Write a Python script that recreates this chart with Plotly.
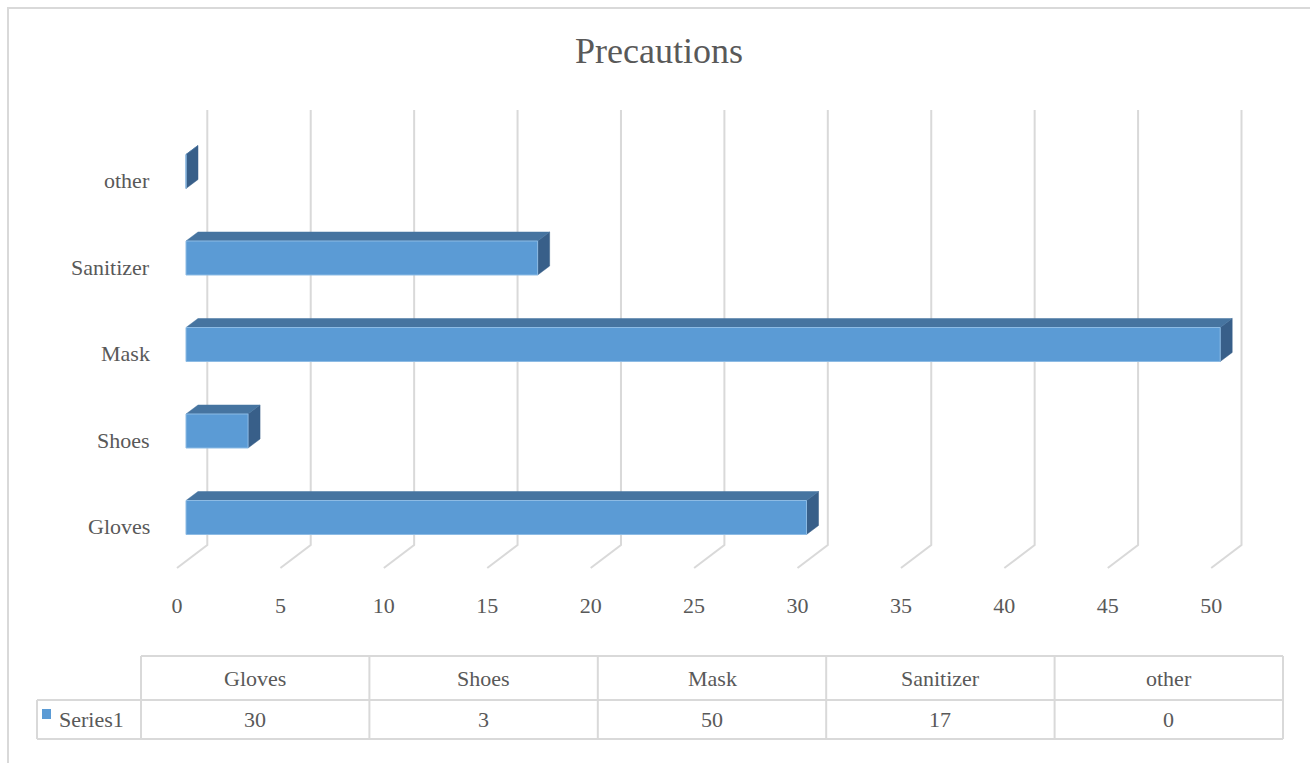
import plotly.graph_objects as go

# ---------------- data ----------------
categories = ["Gloves", "Shoes", "Mask", "Sanitizer", "other"]
values = [30, 3, 50, 17, 0]
series_name = "Series1"
x_ticks = [0, 5, 10, 15, 20, 25, 30, 35, 40, 45, 50]
chart_title = "Precautions"

# ---------------- style / layout ----------------
W, H = 1310, 763
ML, MR, MT, MB = 20, 10, 90, 178
PW, PH = W - ML - MR, H - MT - MB
FONT = "Times New Roman, Liberation Serif, serif"
TXT = "#595959"
GRID = "#d9d9d9"
C_FRONT = "#5b9bd5"
C_TOP = "#4674a0"
C_SIDE = "#385f89"

PX_PER_UNIT = 20.684      # pixels per value unit
X0_PX = 177.0             # pixel where value 0 sits on the floor front edge
CAT0_PX = 517.5           # pixel of first category centre
CAT_STEP_PX = 86.5        # pixels between categories

# x/y ranges derived from the pixel layout
x_range = [(ML - X0_PX) / PX_PER_UNIT, (ML + PW - X0_PX) / PX_PER_UNIT]
y_range = [(CAT0_PX - (MT + PH)) / CAT_STEP_PX, (CAT0_PX - MT) / CAT_STEP_PX]

def ux(px):  # pixel offset -> x units
    return px / PX_PER_UNIT

def uy(px):  # pixel offset -> y units
    return px / CAT_STEP_PX

FRONT_DX = ux(9)          # bar front plane vs floor front
DEPTH_DX = ux(12)         # bar depth
DEPTH_DY = uy(9)
HALF_H = uy(34) / 2       # half height of bar front face
WALL_DX = ux(30.3)        # back wall vs floor front
WALL_TOP = (CAT0_PX - 110) / CAT_STEP_PX
WALL_BOT = (CAT0_PX - 545) / CAT_STEP_PX
FLOOR_FRONT = (CAT0_PX - 568) / CAT_STEP_PX

fig = go.Figure()

# gridlines on the back wall + floor
gx, gy = [], []
for t in x_ticks:
    gx += [t + WALL_DX, t + WALL_DX, t, None]
    gy += [WALL_TOP, WALL_BOT, FLOOR_FRONT, None]
fig.add_trace(go.Scatter(x=gx, y=gy, mode="lines", line=dict(color=GRID, width=2),
                         hoverinfo="skip", showlegend=False))

# 3D bars
fx, fy, tx, ty, sx, sy = [], [], [], [], [], []
for i, v in enumerate(values):
    x0 = FRONT_DX
    x1 = FRONT_DX + v
    y0, y1 = i - HALF_H, i + HALF_H
    # front
    fx += [x0, x1, x1, x0, x0, None]
    fy += [y0, y0, y1, y1, y0, None]
    # top
    tx += [x0, x1, x1 + DEPTH_DX, x0 + DEPTH_DX, x0, None]
    ty += [y1, y1, y1 + DEPTH_DY, y1 + DEPTH_DY, y1, None]
    # right side
    sx += [x1, x1 + DEPTH_DX, x1 + DEPTH_DX, x1, x1, None]
    sy += [y0, y0 + DEPTH_DY, y1 + DEPTH_DY, y1, y0, None]

fig.add_trace(go.Scatter(x=sx, y=sy, mode="lines", fill="toself", fillcolor=C_SIDE,
                         line=dict(color=C_SIDE, width=0.5), hoverinfo="skip", showlegend=False))
fig.add_trace(go.Scatter(x=tx, y=ty, mode="lines", fill="toself", fillcolor=C_TOP,
                         line=dict(color=C_TOP, width=0.5), hoverinfo="skip", showlegend=False))
fig.add_trace(go.Scatter(x=fx, y=fy, mode="lines", fill="toself", fillcolor=C_FRONT,
                         line=dict(color="#8dbbe4", width=1), hoverinfo="skip", showlegend=False))

annotations = []
# category labels
for i, c in enumerate(categories):
    annotations.append(dict(x=ux(152 - X0_PX), y=i, xref="x", yref="y", text=c,
                            showarrow=False, xanchor="right", yanchor="middle", yshift=-9,
                            font=dict(family=FONT, size=22, color=TXT)))

def paper_x(px):
    return (px - ML) / PW

def paper_y(py):
    return (MT + PH - py) / PH

# title
annotations.append(dict(x=paper_x(659), y=paper_y(51), xref="paper", yref="paper",
                        text=chart_title, showarrow=False, xanchor="center", yanchor="middle",
                        font=dict(family=FONT, size=36, color=TXT)))

shapes = []
# outer chart border
shapes.append(dict(type="rect", xref="paper", yref="paper",
                   x0=paper_x(8), x1=paper_x(1316), y0=paper_y(8), y1=paper_y(775),
                   line=dict(color=GRID, width=2), fillcolor="rgba(0,0,0,0)", layer="below"))

# data table
T_LEFT, T_COL0, T_RIGHT = 37, 141, 1283
T_TOP, T_MID, T_BOT = 656, 700, 739
n = len(categories)
col_w = (T_RIGHT - T_COL0) / n

def hline(xa, xb, y):
    shapes.append(dict(type="line", xref="paper", yref="paper", x0=paper_x(xa), x1=paper_x(xb),
                       y0=paper_y(y), y1=paper_y(y), line=dict(color=GRID, width=2)))

def vline(x, ya, yb):
    shapes.append(dict(type="line", xref="paper", yref="paper", x0=paper_x(x), x1=paper_x(x),
                       y0=paper_y(ya), y1=paper_y(yb), line=dict(color=GRID, width=2)))

hline(T_COL0, T_RIGHT, T_TOP)
hline(T_LEFT, T_RIGHT, T_MID)
hline(T_LEFT, T_RIGHT, T_BOT)
vline(T_LEFT, T_MID, T_BOT)
for k in range(n + 1):
    vline(T_COL0 + k * col_w, T_TOP, T_BOT)

for k, (c, v) in enumerate(zip(categories, values)):
    cx = T_COL0 + (k + 0.5) * col_w
    annotations.append(dict(x=paper_x(cx), y=paper_y((T_TOP + T_MID) / 2), xref="paper", yref="paper",
                            text=c, showarrow=False, xanchor="center", yanchor="middle",
                            font=dict(family=FONT, size=22, color=TXT)))
    annotations.append(dict(x=paper_x(cx), y=paper_y((T_MID + T_BOT) / 2), xref="paper", yref="paper",
                            text=str(v), showarrow=False, xanchor="center", yanchor="middle",
                            font=dict(family=FONT, size=22, color=TXT)))

# legend key + series name
shapes.append(dict(type="rect", xref="paper", yref="paper",
                   x0=paper_x(42), x1=paper_x(51), y0=paper_y(709), y1=paper_y(719),
                   fillcolor=C_FRONT, line=dict(width=0)))
annotations.append(dict(x=paper_x(57), y=paper_y((T_MID + T_BOT) / 2), xref="paper", yref="paper",
                        text=series_name, showarrow=False, xanchor="left", yanchor="middle",
                        font=dict(family=FONT, size=22, color=TXT)))

fig.update_layout(
    width=W, height=H,
    margin=dict(l=ML, r=MR, t=MT, b=MB),
    paper_bgcolor="white", plot_bgcolor="white",
    xaxis=dict(range=x_range, tickvals=x_ticks, ticktext=[str(t) for t in x_ticks],
               showgrid=False, zeroline=False, showline=False, ticks="",
               ticklabelstandoff=5,
               tickfont=dict(family=FONT, size=22, color=TXT), fixedrange=True),
    yaxis=dict(range=y_range, showgrid=False, zeroline=False, showline=False,
               showticklabels=False, ticks="", fixedrange=True),
    shapes=shapes, annotations=annotations, showlegend=False,
)

fig.write_html("out.html")
